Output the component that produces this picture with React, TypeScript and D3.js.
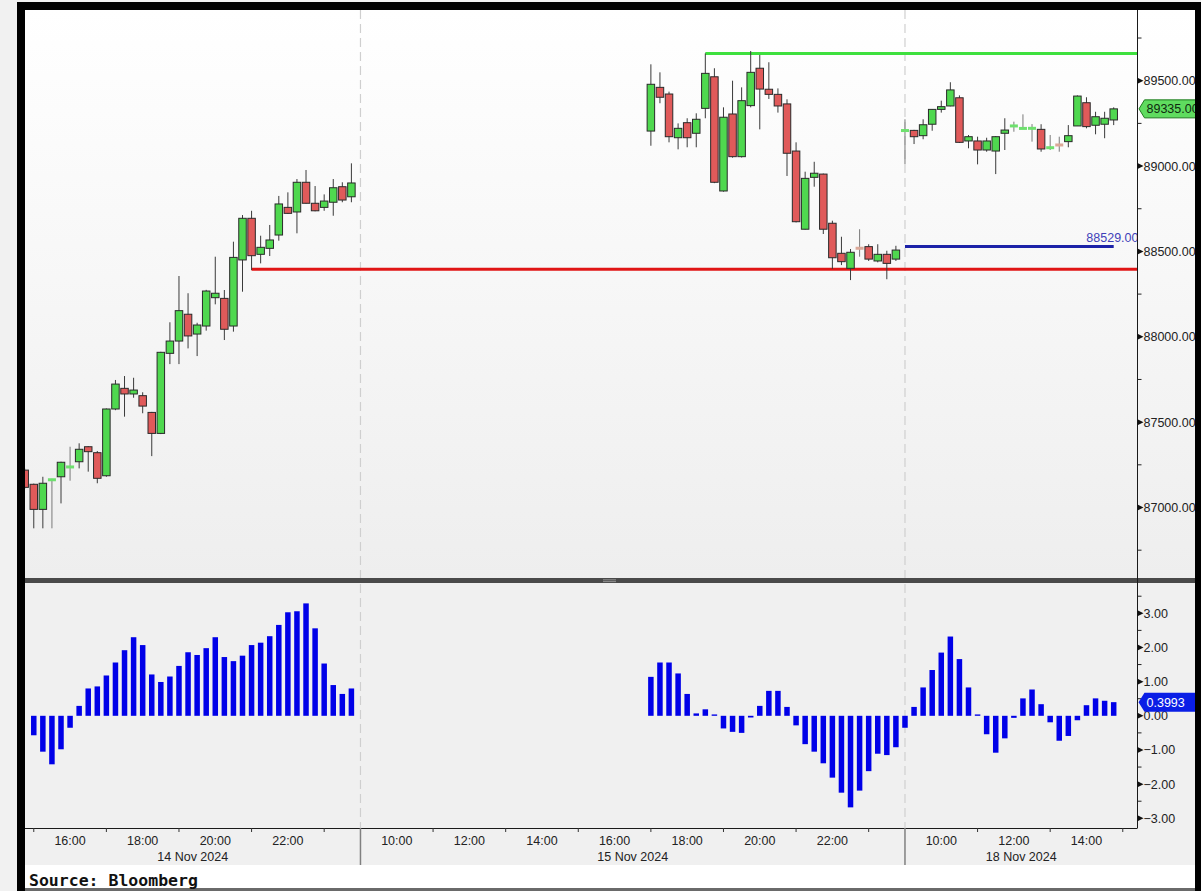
import React from 'react';
import * as d3 from 'd3';

type OHLC = [number, number, number, number]; // open, high, low, close

// 15-minute slots: 14 Nov 14:45-23:45 -> 0..36, 15 Nov 09:00-23:45 -> 37..96, 18 Nov 09:00.. -> 97..
const sessionDates = ['14 Nov 2024', '15 Nov 2024', '18 Nov 2024'];
const sessionFirstSlot = [0, 37, 97];
const sessionStartHour = [14.75, 9, 9];
const labelHours = [[16, 18, 20, 22], [10, 12, 14, 16, 18, 20, 22], [10, 12, 14]];
const tickHours = [[15, 17, 19, 21, 23], [11, 13, 15, 17, 19, 21, 23], [11, 13, 15]];

const nov14Start = 0;
const nov14Candles: OHLC[] = [
  [87219, 87228, 87110, 87118],
  [87136, 87140, 86878, 86989],
  [86989, 87180, 86878, 87142],
  [87160, 87168, 86878, 87165],
  [87180, 87268, 87024, 87265],
  [87236, 87356, 87157, 87239],
  [87268, 87376, 87229, 87341],
  [87356, 87360, 87210, 87327],
  [87321, 87331, 87142, 87171],
  [87186, 87580, 87180, 87577],
  [87577, 87747, 87570, 87723],
  [87698, 87770, 87532, 87665],
  [87665, 87760, 87643, 87688],
  [87655, 87675, 87552, 87594],
  [87557, 87560, 87301, 87434],
  [87434, 87912, 87430, 87909],
  [87903, 88085, 87840, 87975],
  [87975, 88356, 87840, 88153],
  [88132, 88255, 87932, 88005],
  [88016, 88082, 87887, 88069],
  [88063, 88275, 88036, 88268],
  [88229, 88469, 88190, 88255],
  [88225, 88274, 87981, 88044],
  [88063, 88557, 88030, 88465],
  [88450, 88713, 88264, 88694],
  [88694, 88738, 88391, 88475],
  [88483, 88592, 88430, 88524],
  [88518, 88655, 88473, 88567],
  [88596, 88825, 88563, 88778],
  [88758, 88846, 88720, 88723],
  [88731, 88924, 88606, 88905],
  [88905, 88977, 88780, 88782],
  [88782, 88883, 88735, 88738],
  [88758, 88834, 88738, 88795],
  [88788, 88924, 88709, 88873],
  [88879, 88905, 88788, 88801],
  [88820, 89016, 88788, 88901],
];

const nov15Start = 69;
const nov15Candles: OHLC[] = [
  [89205, 89596, 89119, 89479],
  [89461, 89549, 89368, 89403],
  [89422, 89436, 89139, 89172],
  [89166, 89250, 89098, 89221],
  [89254, 89280, 89110, 89166],
  [89192, 89309, 89110, 89274],
  [89338, 89660, 89280, 89543],
  [89523, 89573, 88900, 88905],
  [88854, 89344, 88850, 89286],
  [89305, 89500, 89049, 89055],
  [89055, 89461, 89050, 89383],
  [89354, 89674, 89344, 89549],
  [89573, 89651, 89215, 89451],
  [89450, 89608, 89393, 89420],
  [89420, 89455, 89313, 89352],
  [89364, 89391, 88942, 89075],
  [89088, 89139, 88670, 88674],
  [88630, 88967, 88628, 88928],
  [88934, 89025, 88879, 88958],
  [88953, 88956, 88602, 88630],
  [88665, 88680, 88397, 88463],
  [88489, 88586, 88420, 88440],
  [88401, 88514, 88332, 88495],
  [88520, 88630, 88469, 88517],
  [88528, 88542, 88444, 88455],
  [88444, 88542, 88436, 88483],
  [88483, 88504, 88337, 88430],
  [88455, 88533, 88444, 88508],
];

const nov18Start = 97;
const nov18Candles: OHLC[] = [
  [89207, 89274, 89012, 89209],
  [89209, 89212, 89129, 89172],
  [89178, 89274, 89157, 89242],
  [89245, 89334, 89207, 89332],
  [89332, 89383, 89313, 89348],
  [89352, 89491, 89350, 89446],
  [89400, 89414, 89135, 89139],
  [89147, 89182, 89104, 89172],
  [89147, 89172, 89010, 89094],
  [89094, 89166, 89084, 89147],
  [89088, 89176, 88953, 89172],
  [89192, 89280, 89094, 89211],
  [89234, 89260, 89201, 89236],
  [89220, 89303, 89218, 89221],
  [89220, 89246, 89143, 89222],
  [89215, 89245, 89084, 89100],
  [89107, 89182, 89094, 89108],
  [89124, 89172, 89084, 89123],
  [89143, 89240, 89110, 89178],
  [89235, 89414, 89235, 89410],
  [89371, 89403, 89221, 89231],
  [89239, 89318, 89186, 89289],
  [89245, 89318, 89163, 89280],
  [89270, 89344, 89240, 89335],
];

const nov14MacdStart = 1;
const nov14Macd = [-0.57, -1.05, -1.42, -0.98, -0.35, 0.29, 0.8, 0.86, 1.18, 1.56, 1.92, 2.3, 2.07, 1.21, 0.99, 1.15, 1.46, 1.86, 1.78, 1.98, 2.3, 1.72, 1.6, 1.76, 2.07, 2.14, 2.33, 2.66, 3.03, 3.06, 3.29, 2.56, 1.53, 0.9, 0.64, 0.8];
const nov15MacdStart = 69;
const nov15Macd = [1.14, 1.56, 1.56, 1.24, 0.64, 0.07, 0.19, 0.04, -0.37, -0.47, -0.5, -0.05, 0.29, 0.73, 0.73, 0.26, -0.28, -0.83, -1.05, -1.39, -1.81, -2.25, -2.68, -2.19, -1.62, -1.11, -1.15, -0.92];
const nov18MacdStart = 97;
const nov18Macd = [-0.35, 0.26, 0.83, 1.34, 1.85, 2.32, 1.66, 0.83, 0.04, -0.54, -1.08, -0.66, -0.06, 0.51, 0.77, 0.34, -0.19, -0.73, -0.59, -0.13, 0.31, 0.51, 0.44, 0.3993];

// horizontal reference lines: [value, first slot, last slot or null = to axis]
const supportLine = { value: 88395, from: 25 };
const resistanceLine = { value: 89660, from: 75 };
const markerLine = { value: 88529, from: 97, to: 120, label: '88529.00' };
const lastPrice = 89335;
const lastMacd = 0.3993;

const FONT = "'Liberation Sans', Arial, sans-serif";

export default function App() {
  const plotL = 25;
  const axisX = 1137.5;
  const mainTop = 10;
  const mainBot = 578;
  const lowTop = 583;
  const lowBot = 828;

  const x = d3.scaleLinear().domain([0, 120]).range([24.7, 1113.7]);
  const yP = d3.scaleLinear().domain([87000, 89500]).range([507.5, 80.7]);
  const yM = d3.scaleLinear().domain([-3, 3]).range([818.3, 613.3]);
  const fmt2 = d3.format('.2f');

  const slotOf = (s: number, h: number) => sessionFirstSlot[s] + (h - sessionStartHour[s]) * 4;
  const boundaries = [sessionFirstSlot[1], sessionFirstSlot[2]].map((g) => x(g));
  const sessionSpans = [
    [plotL, boundaries[0]],
    [boundaries[0], boundaries[1]],
    [boundaries[1], axisX],
  ];

  const candles = (data: OHLC[], start: number, key: string) =>
    data.map(([o, h, l, c], i) => {
      const cx = x(start + i);
      const up = c >= o;
      const flat = Math.abs(c - o) < 8;
      if (flat) {
        return (
          <g key={key + i}>
            <line x1={cx} x2={cx} y1={yP(h)} y2={yP(l)} stroke="#7a7a7a" strokeWidth={1} />
            <rect x={cx - 4} y={yP((o + c) / 2) - 1.5} width={8} height={3} fill={up ? '#6ee06e' : '#dba898'} />
          </g>
        );
      }
      const yt = yP(Math.max(o, c));
      const yb = yP(Math.min(o, c));
      return (
        <g key={key + i}>
          <line x1={cx} x2={cx} y1={yP(h)} y2={yP(l)} stroke="#3a3a3a" strokeWidth={1} />
          <rect x={cx - 3.75} y={yt} width={7.5} height={Math.max(1, yb - yt)} fill={up ? '#4fd84f' : '#e05a5a'} stroke="#2a2a2a" strokeWidth={1} />
        </g>
      );
    });

  const macdBars = (data: number[], start: number, key: string) =>
    data.map((v, i) => {
      const cx = x(start + i);
      const y0 = yM(0);
      const y1 = yM(v);
      const top = Math.min(y0, y1);
      return <rect key={key + i} x={cx - 2.75} y={top} width={5.5} height={Math.max(1, Math.abs(y1 - y0))} fill="#0000e8" />;
    });

  const priceTicks = d3.range(86750, 89751, 250).filter((v) => yP(v) > mainTop + 3 && yP(v) < mainBot - 3);
  const macdTicks = d3.range(-3, 3.51, 0.5);

  const triangle = (y: number) => `M${axisX},${y - 3} L${axisX + 6},${y} L${axisX},${y + 3} Z`;

  return (
    <svg width={1201} height={891} style={{ position: 'absolute', left: 0, top: 0 }} xmlns="http://www.w3.org/2000/svg">
      <defs>
        <linearGradient id="mainBg" x1="0" y1="0" x2="0" y2="1">
          <stop offset="0" stopColor="#ffffff" />
          <stop offset="1" stopColor="#eeeeee" />
        </linearGradient>
        <clipPath id="mainClip">
          <rect x={plotL} y={mainTop} width={axisX - plotL} height={mainBot - mainTop} />
        </clipPath>
        <clipPath id="lowClip">
          <rect x={plotL} y={lowTop} width={axisX - plotL} height={lowBot - lowTop} />
        </clipPath>
      </defs>

      {/* page and frame */}
      <rect x={0} y={0} width={1201} height={891} fill="#f1f1f1" />
      <rect x={17} y={2} width={1184} height={889} fill="#000" />
      <rect x={plotL} y={mainTop} width={1170} height={mainBot - mainTop} fill="url(#mainBg)" />
      <rect x={plotL} y={lowTop} width={1170} height={865 - lowTop} fill="#f0f0f0" />
      <rect x={plotL} y={865} width={1170} height={23} fill="#ffffff" />
      <rect x={plotL} y={888} width={1176} height={3} fill="#6a6a6a" />

      {/* session dashed dividers */}
      {boundaries.map((bx, i) => (
        <line key={'dd' + i} x1={bx} x2={bx} y1={mainTop} y2={lowBot} stroke="#cfcfcf" strokeWidth={1.2} strokeDasharray="9 5" />
      ))}

      {/* main panel */}
      <g clipPath="url(#mainClip)">
        <line x1={x(supportLine.from)} x2={axisX} y1={yP(supportLine.value)} y2={yP(supportLine.value)} stroke="#e01515" strokeWidth={3} />
        <line x1={x(resistanceLine.from)} x2={axisX} y1={yP(resistanceLine.value)} y2={yP(resistanceLine.value)} stroke="#3ee03e" strokeWidth={3} />
        <line x1={x(markerLine.from)} x2={x(markerLine.to)} y1={yP(markerLine.value)} y2={yP(markerLine.value)} stroke="#1c22a8" strokeWidth={3} />
        {candles(nov14Candles, nov14Start, 'a')}
        {candles(nov15Candles, nov15Start, 'b')}
        {candles(nov18Candles, nov18Start, 'c')}
        <text x={axisX + 1} y={yP(markerLine.value) - 4} textAnchor="end" fontFamily={FONT} fontSize={12.5} fill="#4040b8">
          {markerLine.label}
        </text>
      </g>

      {/* lower panel */}
      <g clipPath="url(#lowClip)">
        {macdBars(nov14Macd, nov14MacdStart, 'm1')}
        {macdBars(nov15Macd, nov15MacdStart, 'm2')}
        {macdBars(nov18Macd, nov18MacdStart, 'm3')}
      </g>

      {/* panel separator */}
      <rect x={plotL} y={mainBot} width={1170} height={lowTop - mainBot} fill="#4a4a4a" />
      <line x1={603} x2={616} y1={579.8} y2={579.8} stroke="#a0a0a0" strokeWidth={0.8} />
      <line x1={603} x2={616} y1={581.6} y2={581.6} stroke="#a0a0a0" strokeWidth={0.8} />

      {/* right axis */}
      <line x1={axisX} x2={axisX} y1={mainTop} y2={lowBot} stroke="#1a1a1a" strokeWidth={1} />
      {priceTicks.map((v) =>
        v % 500 === 0 ? (
          <g key={'pt' + v}>
            <path d={triangle(yP(v))} fill="#111" />
            <text x={axisX + 6} y={yP(v) + 4.5} fontFamily={FONT} fontSize={12.5} fill="#222">
              {fmt2(v)}
            </text>
          </g>
        ) : (
          <line key={'pt' + v} x1={axisX} x2={axisX + 4} y1={yP(v)} y2={yP(v)} stroke="#222" />
        )
      )}
      {macdTicks.map((v) =>
        Math.abs(v % 1) < 1e-9 ? (
          <g key={'mt' + v}>
            <path d={triangle(yM(v))} fill="#111" />
            <text x={axisX + 6} y={yM(v) + 4.5} fontFamily={FONT} fontSize={12.5} fill="#222">
              {fmt2(v === 0 ? 0 : v).replace('-', '-')}
            </text>
          </g>
        ) : (
          <line key={'mt' + v} x1={axisX} x2={axisX + 4} y1={yM(v)} y2={yM(v)} stroke="#222" />
        )
      )}

      {/* last price tag */}
      <path
        d={`M${axisX + 1.5},${yP(lastPrice)} L${axisX + 7},${yP(lastPrice) - 9} L1197,${yP(lastPrice) - 9} L1197,${yP(lastPrice) + 9} L${axisX + 7},${yP(lastPrice) + 9} Z`}
        fill="#5fdc5f"
        stroke="#1f7a1f"
        strokeWidth={1}
      />
      <text x={axisX + 9} y={yP(lastPrice) + 4.5} fontFamily={FONT} fontSize={12.5} fill="#0f2a0f">
        {fmt2(lastPrice)}
      </text>
      {/* last MACD tag */}
      <path
        d={`M${axisX + 1},${yM(lastMacd)} L${axisX + 7},${yM(lastMacd) - 9.5} L1201,${yM(lastMacd) - 9.5} L1201,${yM(lastMacd) + 9.5} L${axisX + 7},${yM(lastMacd) + 9.5} Z`}
        fill="#0a1ee6"
      />
      <text x={axisX + 9} y={yM(lastMacd) + 4.5} fontFamily={FONT} fontSize={12.5} fill="#ffffff">
        {lastMacd.toFixed(4)}
      </text>

      {/* x axis */}
      <line x1={plotL} x2={axisX} y1={lowBot + 0.5} y2={lowBot + 0.5} stroke="#1a1a1a" strokeWidth={1} />
      {boundaries.map((bx, i) => (
        <line key={'sb' + i} x1={bx} x2={bx} y1={lowBot} y2={865} stroke="#808080" strokeWidth={1.5} />
      ))}
      {tickHours.map((hs, s) =>
        hs.map((h) => {
          const tx = x(slotOf(s, h));
          if (tx > axisX + 1) return null;
          return <line key={'tk' + s + h} x1={tx} x2={tx} y1={lowBot} y2={lowBot + 4} stroke="#333" />;
        })
      )}
      {labelHours.map((hs, s) =>
        hs.map((h) => (
          <text key={'lh' + s + h} x={x(slotOf(s, h))} y={845} textAnchor="middle" fontFamily={FONT} fontSize={12.5} fill="#222">
            {`${h}:00`}
          </text>
        ))
      )}
      {sessionDates.map((d, s) => (
        <text key={'sd' + s} x={(sessionSpans[s][0] + sessionSpans[s][1]) / 2} y={861} textAnchor="middle" fontFamily={FONT} fontSize={12.5} fill="#222">
          {d}
        </text>
      ))}

      {/* right frame edge drawn over clipped labels */}
      <rect x={1195} y={2} width={6} height={889} fill="#000" />

      <text x={29} y={886} fontFamily="'DejaVu Sans Mono', monospace" fontWeight="bold" fontSize={16.5} fill="#111">
        Source: Bloomberg
      </text>
    </svg>
  );
}
